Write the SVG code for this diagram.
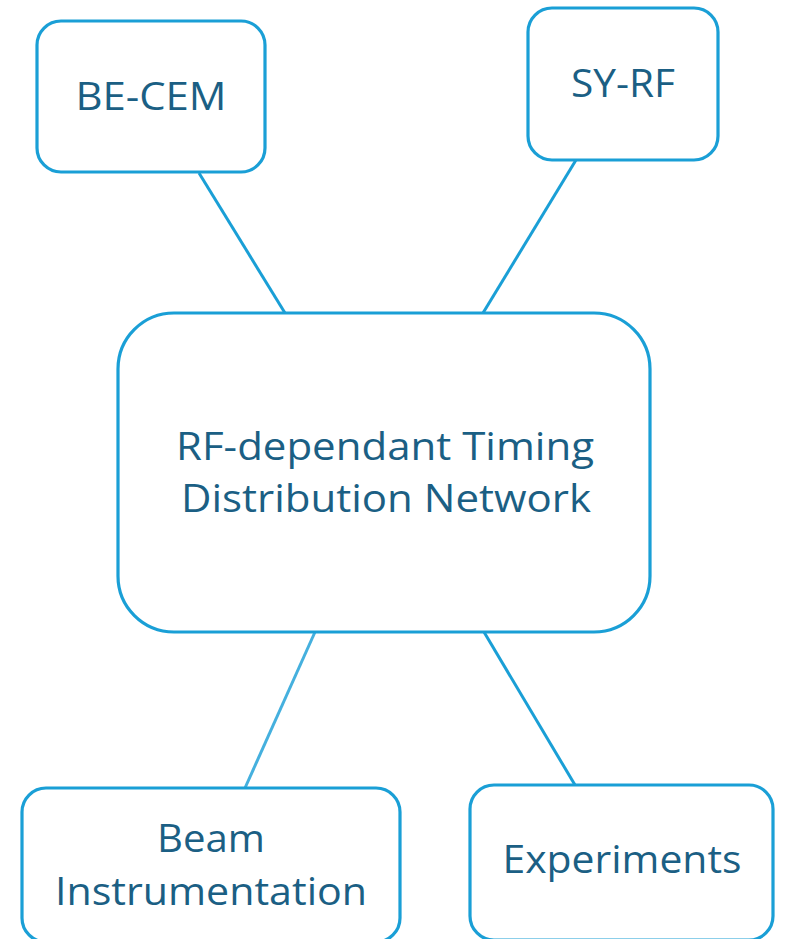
<svg xmlns="http://www.w3.org/2000/svg" width="789" height="939" viewBox="0 0 789 939">
  <style>
    .box { fill: #ffffff; stroke: #1a9fd6; stroke-width: 3.2; }
    .link { stroke: #1a9fd6; stroke-width: 3; fill: none; }
    .link.soft { stroke: #45b0de; }
    .label { font-family: "Open Sans", "Noto Sans", "Liberation Sans", sans-serif; font-size: 38px; fill: #1b5f84; text-anchor: middle; }
  </style>
  <rect width="789" height="939" fill="#ffffff"/>

  <g id="connectors">
    <line class="link" x1="199" y1="173" x2="285" y2="313"/>
    <line class="link" x1="576" y1="160" x2="483" y2="313"/>
    <line class="link soft" x1="315" y1="632" x2="245" y2="788"/>
    <line class="link" x1="484" y1="632" x2="575" y2="785"/>
  </g>

  <g id="be-cem">
    <rect class="box" x="37" y="21" width="228" height="151" rx="24"/>
    <text class="label" x="151" y="110" textLength="151" lengthAdjust="spacingAndGlyphs">BE-CEM</text>
  </g>

  <g id="sy-rf">
    <rect class="box" x="528" y="8" width="190" height="152" rx="24"/>
    <text class="label" x="623" y="97" textLength="104" lengthAdjust="spacingAndGlyphs">SY-RF</text>
  </g>

  <g id="timing-network">
    <rect class="box" x="118" y="313" width="532" height="319" rx="56"/>
    <text class="label" x="385" y="460" textLength="418" lengthAdjust="spacingAndGlyphs">RF-dependant Timing</text>
    <text class="label" x="386" y="512" textLength="410" lengthAdjust="spacingAndGlyphs">Distribution Network</text>
  </g>

  <g id="beam-instrumentation">
    <rect class="box" x="22" y="788" width="378" height="154" rx="24"/>
    <text class="label" x="211" y="852" textLength="108" lengthAdjust="spacingAndGlyphs">Beam</text>
    <text class="label" x="211" y="905" textLength="312" lengthAdjust="spacingAndGlyphs">Instrumentation</text>
  </g>

  <g id="experiments">
    <rect class="box" x="470" y="785" width="303" height="155" rx="24"/>
    <text class="label" x="622" y="873" textLength="239" lengthAdjust="spacingAndGlyphs">Experiments</text>
  </g>
</svg>
